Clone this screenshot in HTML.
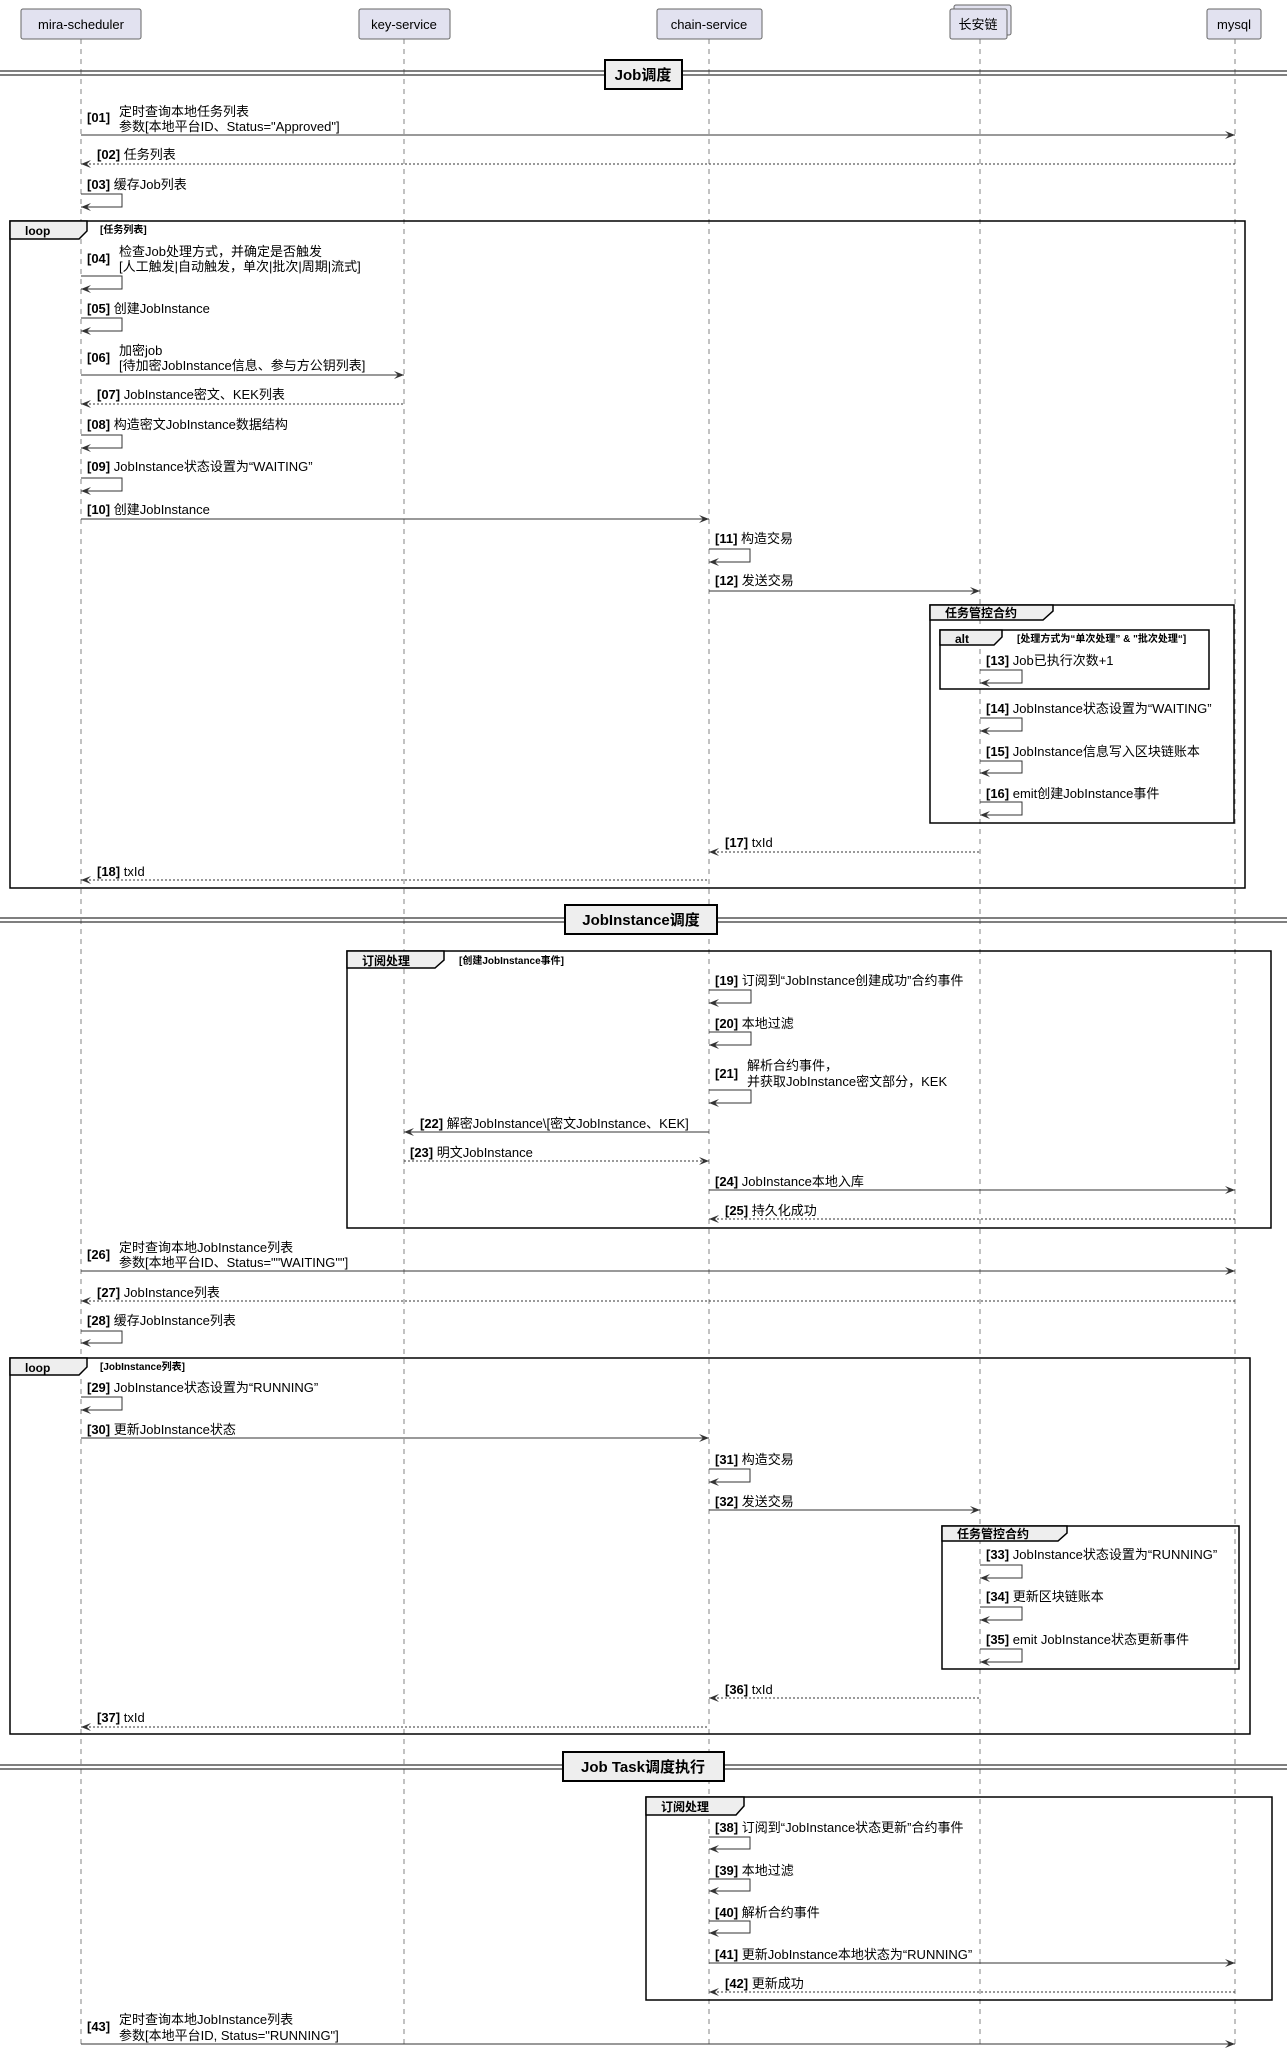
<!DOCTYPE html>
<html><head><meta charset="utf-8"><style>
html,body{margin:0;padding:0;background:#fff;}
svg{display:block;font-family:"Liberation Sans","Noto Sans CJK SC",sans-serif;}
.t{font-size:13px;fill:#000;}
.b{font-weight:bold;}
.ln{stroke:#333;stroke-width:1;fill:none;}
.dl{stroke:#333;stroke-width:1;fill:none;stroke-dasharray:2,2;}
.ll{stroke:#666;stroke-width:0.8;stroke-dasharray:5,5;}
.ah{fill:#333;}
.fr{fill:none;stroke:#000;stroke-width:1.5;}
.tab{fill:#eee;stroke:#000;stroke-width:1.5;}
.pb{fill:#e2e2f0;stroke:#666;stroke-width:1;}
</style></head><body>
<svg width="1287" height="2048" viewBox="0 0 1287 2048" xmlns="http://www.w3.org/2000/svg">
<line class="ll" x1="81" y1="39" x2="81" y2="2048"/>
<line class="ll" x1="404" y1="39" x2="404" y2="2048"/>
<line class="ll" x1="709" y1="39" x2="709" y2="2048"/>
<line class="ll" x1="980" y1="39" x2="980" y2="2048"/>
<line class="ll" x1="1235" y1="39" x2="1235" y2="2048"/>
<rect class="pb" x="21" y="9" width="120" height="30" rx="2"/>
<text class="t" x="81" y="29" text-anchor="middle" style="font-size:13px">mira-scheduler</text>
<rect class="pb" x="359" y="9" width="91" height="30" rx="2"/>
<text class="t" x="404" y="29" text-anchor="middle" style="font-size:13px">key-service</text>
<rect class="pb" x="657" y="9" width="105" height="30" rx="2"/>
<text class="t" x="709" y="29" text-anchor="middle" style="font-size:13px">chain-service</text>
<rect class="pb" x="954" y="5" width="57" height="30" rx="2"/>
<rect class="pb" x="950" y="9" width="57" height="30" rx="2"/>
<text class="t" x="978" y="29" text-anchor="middle" style="font-size:13px">长安链</text>
<rect class="pb" x="1207" y="9" width="54" height="30" rx="2"/>
<text class="t" x="1234" y="29" text-anchor="middle" style="font-size:13px">mysql</text>

<g>
<line x1="0" y1="71" x2="1287" y2="71" stroke="#333" stroke-width="1.2"/><line x1="0" y1="75" x2="1287" y2="75" stroke="#333" stroke-width="1.2"/>
<rect x="605" y="60" width="77" height="29" fill="#eee" stroke="#000" stroke-width="2"/>
<text class="t b" x="643" y="80" text-anchor="middle" style="font-size:15px">Job调度</text>
<line x1="0" y1="918" x2="1287" y2="918" stroke="#333" stroke-width="1.2"/><line x1="0" y1="922" x2="1287" y2="922" stroke="#333" stroke-width="1.2"/>
<rect x="565" y="905" width="152" height="29" fill="#eee" stroke="#000" stroke-width="2"/>
<text class="t b" x="641" y="925" text-anchor="middle" style="font-size:15px">JobInstance调度</text>
<line x1="0" y1="1765" x2="1287" y2="1765" stroke="#333" stroke-width="1.2"/><line x1="0" y1="1769" x2="1287" y2="1769" stroke="#333" stroke-width="1.2"/>
<rect x="563" y="1752" width="161" height="29" fill="#eee" stroke="#000" stroke-width="2"/>
<text class="t b" x="643" y="1772" text-anchor="middle" style="font-size:15px">Job Task调度执行</text>
</g>

<rect class="fr" x="10" y="221" width="1235" height="667"/>
<path class="tab" d="M10 221 H87 V231 L79 239 H10 Z"/>
<text class="t b" x="25" y="235" style="font-size:12px">loop</text>
<text class="t b" x="100" y="233" style="font-size:10px">[任务列表]</text>

<rect class="fr" x="930" y="605" width="304" height="218"/>
<path class="tab" d="M930 605 H1053 V611 L1043 620 H930 Z"/>
<text class="t b" x="945" y="617" style="font-size:12px">任务管控合约</text>
<rect class="fr" x="940" y="630" width="269" height="59"/>
<path class="tab" d="M940 630 H1002 V637 L994 645 H940 Z"/>
<text class="t b" x="955" y="643" style="font-size:12px">alt</text>
<text class="t b" x="1017" y="642" style="font-size:10px">[处理方式为“单次处理” &amp; "批次处理“]</text>

<rect class="fr" x="347" y="951" width="924" height="277"/>
<path class="tab" d="M347 951 H444 V960 L435 968 H347 Z"/>
<text class="t b" x="362" y="965" style="font-size:12px">订阅处理</text>
<text class="t b" x="459" y="964" style="font-size:10px">[创建JobInstance事件]</text>

<rect class="fr" x="10" y="1358" width="1240" height="376"/>
<path class="tab" d="M10 1358 H87 V1367 L79 1375 H10 Z"/>
<text class="t b" x="25" y="1372" style="font-size:12px">loop</text>
<text class="t b" x="100" y="1370" style="font-size:10px">[JobInstance列表]</text>

<rect class="fr" x="942" y="1526" width="297" height="143"/>
<path class="tab" d="M942 1526 H1067 V1533 L1058 1541 H942 Z"/>
<text class="t b" x="957" y="1538" style="font-size:12px">任务管控合约</text>

<rect class="fr" x="646" y="1797" width="626" height="203"/>
<path class="tab" d="M646 1797 H744 V1806 L736 1815 H646 Z"/>
<text class="t b" x="661" y="1811" style="font-size:12px">订阅处理</text>

<text class="t" x="87" y="122"><tspan class="b">[01]</tspan></text>
<text class="t" x="119" y="116">定时查询本地任务列表</text>
<text class="t" x="119" y="131">参数[本地平台ID、Status="Approved"]</text>
<line class="ln" x1="81" y1="135" x2="1235" y2="135"/><polygon class="ah" points="1235,135 1225,131 1229,135 1225,139"/>
<text class="t" x="97" y="159"><tspan class="b">[02]</tspan> 任务列表</text>
<line class="dl" x1="81" y1="164" x2="1235" y2="164"/><polygon class="ah" points="81,164 91,160 87,164 91,168"/>
<text class="t" x="87" y="189"><tspan class="b">[03]</tspan> 缓存Job列表</text>
<path class="ln" d="M81 194 H122 V207 H81"/><polygon class="ah" points="81,207 91,203 87,207 91,211"/>
<text class="t" x="87" y="263"><tspan class="b">[04]</tspan></text>
<text class="t" x="119" y="256">检查Job处理方式，并确定是否触发</text>
<text class="t" x="119" y="271">[人工触发|自动触发，单次|批次|周期|流式]</text>
<path class="ln" d="M81 276 H122 V289 H81"/><polygon class="ah" points="81,289 91,285 87,289 91,293"/>
<text class="t" x="87" y="313"><tspan class="b">[05]</tspan> 创建JobInstance</text>
<path class="ln" d="M81 318 H122 V331 H81"/><polygon class="ah" points="81,331 91,327 87,331 91,335"/>
<text class="t" x="87" y="362"><tspan class="b">[06]</tspan></text>
<text class="t" x="119" y="355">加密job</text>
<text class="t" x="119" y="370">[待加密JobInstance信息、参与方公钥列表]</text>
<line class="ln" x1="81" y1="375" x2="404" y2="375"/><polygon class="ah" points="404,375 394,371 398,375 394,379"/>
<text class="t" x="97" y="399"><tspan class="b">[07]</tspan> JobInstance密文、KEK列表</text>
<line class="dl" x1="81" y1="404" x2="404" y2="404"/><polygon class="ah" points="81,404 91,400 87,404 91,408"/>
<text class="t" x="87" y="429"><tspan class="b">[08]</tspan> 构造密文JobInstance数据结构</text>
<path class="ln" d="M81 435 H122 V448 H81"/><polygon class="ah" points="81,448 91,444 87,448 91,452"/>
<text class="t" x="87" y="471"><tspan class="b">[09]</tspan> JobInstance状态设置为“WAITING”</text>
<path class="ln" d="M81 478 H122 V491 H81"/><polygon class="ah" points="81,491 91,487 87,491 91,495"/>
<text class="t" x="87" y="514"><tspan class="b">[10]</tspan> 创建JobInstance</text>
<line class="ln" x1="81" y1="519" x2="709" y2="519"/><polygon class="ah" points="709,519 699,515 703,519 699,523"/>
<text class="t" x="715" y="543"><tspan class="b">[11]</tspan> 构造交易</text>
<path class="ln" d="M709 549 H750 V562 H709"/><polygon class="ah" points="709,562 719,558 715,562 719,566"/>
<text class="t" x="715" y="585"><tspan class="b">[12]</tspan> 发送交易</text>
<line class="ln" x1="709" y1="591" x2="980" y2="591"/><polygon class="ah" points="980,591 970,587 974,591 970,595"/>
<text class="t" x="986" y="665"><tspan class="b">[13]</tspan> Job已执行次数+1</text>
<path class="ln" d="M980 670 H1022 V683 H980"/><polygon class="ah" points="980,683 990,679 986,683 990,687"/>
<text class="t" x="986" y="713"><tspan class="b">[14]</tspan> JobInstance状态设置为“WAITING”</text>
<path class="ln" d="M980 718 H1022 V731 H980"/><polygon class="ah" points="980,731 990,727 986,731 990,735"/>
<text class="t" x="986" y="756"><tspan class="b">[15]</tspan> JobInstance信息写入区块链账本</text>
<path class="ln" d="M980 761 H1022 V773 H980"/><polygon class="ah" points="980,773 990,769 986,773 990,777"/>
<text class="t" x="986" y="798"><tspan class="b">[16]</tspan> emit创建JobInstance事件</text>
<path class="ln" d="M980 802 H1022 V815 H980"/><polygon class="ah" points="980,815 990,811 986,815 990,819"/>
<text class="t" x="725" y="847"><tspan class="b">[17]</tspan> txId</text>
<line class="dl" x1="709" y1="852" x2="980" y2="852"/><polygon class="ah" points="709,852 719,848 715,852 719,856"/>
<text class="t" x="97" y="876"><tspan class="b">[18]</tspan> txId</text>
<line class="dl" x1="81" y1="880" x2="709" y2="880"/><polygon class="ah" points="81,880 91,876 87,880 91,884"/>

<text class="t" x="715" y="985"><tspan class="b">[19]</tspan> 订阅到“JobInstance创建成功”合约事件</text>
<path class="ln" d="M709 990 H751 V1003 H709"/><polygon class="ah" points="709,1003 719,999 715,1003 719,1007"/>
<text class="t" x="715" y="1028"><tspan class="b">[20]</tspan> 本地过滤</text>
<path class="ln" d="M709 1032 H751 V1045 H709"/><polygon class="ah" points="709,1045 719,1041 715,1045 719,1049"/>
<text class="t" x="715" y="1078"><tspan class="b">[21]</tspan></text>
<text class="t" x="747" y="1070">解析合约事件，</text>
<text class="t" x="747" y="1086">并获取JobInstance密文部分，KEK</text>
<path class="ln" d="M709 1090 H751 V1103 H709"/><polygon class="ah" points="709,1103 719,1099 715,1103 719,1107"/>
<text class="t" x="420" y="1128"><tspan class="b">[22]</tspan> 解密JobInstance\[密文JobInstance、KEK]</text>
<line class="ln" x1="404" y1="1132" x2="709" y2="1132"/><polygon class="ah" points="404,1132 414,1128 410,1132 414,1136"/>
<text class="t" x="410" y="1157"><tspan class="b">[23]</tspan> 明文JobInstance</text>
<line class="dl" x1="404" y1="1161" x2="709" y2="1161"/><polygon class="ah" points="709,1161 699,1157 703,1161 699,1165"/>
<text class="t" x="715" y="1186"><tspan class="b">[24]</tspan> JobInstance本地入库</text>
<line class="ln" x1="709" y1="1190" x2="1235" y2="1190"/><polygon class="ah" points="1235,1190 1225,1186 1229,1190 1225,1194"/>
<text class="t" x="725" y="1215"><tspan class="b">[25]</tspan> 持久化成功</text>
<line class="dl" x1="709" y1="1219" x2="1235" y2="1219"/><polygon class="ah" points="709,1219 719,1215 715,1219 719,1223"/>

<text class="t" x="87" y="1259"><tspan class="b">[26]</tspan></text>
<text class="t" x="119" y="1252">定时查询本地JobInstance列表</text>
<text class="t" x="119" y="1267">参数[本地平台ID、Status=""WAITING""]</text>
<line class="ln" x1="81" y1="1271" x2="1235" y2="1271"/><polygon class="ah" points="1235,1271 1225,1267 1229,1271 1225,1275"/>
<text class="t" x="97" y="1297"><tspan class="b">[27]</tspan> JobInstance列表</text>
<line class="dl" x1="81" y1="1301" x2="1235" y2="1301"/><polygon class="ah" points="81,1301 91,1297 87,1301 91,1305"/>
<text class="t" x="87" y="1325"><tspan class="b">[28]</tspan> 缓存JobInstance列表</text>
<path class="ln" d="M81 1331 H122 V1343 H81"/><polygon class="ah" points="81,1343 91,1339 87,1343 91,1347"/>
<text class="t" x="87" y="1392"><tspan class="b">[29]</tspan> JobInstance状态设置为“RUNNING”</text>
<path class="ln" d="M81 1397 H122 V1410 H81"/><polygon class="ah" points="81,1410 91,1406 87,1410 91,1414"/>
<text class="t" x="87" y="1434"><tspan class="b">[30]</tspan> 更新JobInstance状态</text>
<line class="ln" x1="81" y1="1438" x2="709" y2="1438"/><polygon class="ah" points="709,1438 699,1434 703,1438 699,1442"/>
<text class="t" x="715" y="1464"><tspan class="b">[31]</tspan> 构造交易</text>
<path class="ln" d="M709 1469 H750 V1482 H709"/><polygon class="ah" points="709,1482 719,1478 715,1482 719,1486"/>
<text class="t" x="715" y="1506"><tspan class="b">[32]</tspan> 发送交易</text>
<line class="ln" x1="709" y1="1510" x2="980" y2="1510"/><polygon class="ah" points="980,1510 970,1506 974,1510 970,1514"/>
<text class="t" x="986" y="1559"><tspan class="b">[33]</tspan> JobInstance状态设置为“RUNNING”</text>
<path class="ln" d="M980 1565 H1022 V1578 H980"/><polygon class="ah" points="980,1578 990,1574 986,1578 990,1582"/>
<text class="t" x="986" y="1601"><tspan class="b">[34]</tspan> 更新区块链账本</text>
<path class="ln" d="M980 1607 H1022 V1620 H980"/><polygon class="ah" points="980,1620 990,1616 986,1620 990,1624"/>
<text class="t" x="986" y="1644"><tspan class="b">[35]</tspan> emit JobInstance状态更新事件</text>
<path class="ln" d="M980 1649 H1022 V1662 H980"/><polygon class="ah" points="980,1662 990,1658 986,1662 990,1666"/>
<text class="t" x="725" y="1694"><tspan class="b">[36]</tspan> txId</text>
<line class="dl" x1="709" y1="1698" x2="980" y2="1698"/><polygon class="ah" points="709,1698 719,1694 715,1698 719,1702"/>
<text class="t" x="97" y="1722"><tspan class="b">[37]</tspan> txId</text>
<line class="dl" x1="81" y1="1727" x2="709" y2="1727"/><polygon class="ah" points="81,1727 91,1723 87,1727 91,1731"/>

<text class="t" x="715" y="1832"><tspan class="b">[38]</tspan> 订阅到“JobInstance状态更新”合约事件</text>
<path class="ln" d="M709 1837 H750 V1849 H709"/><polygon class="ah" points="709,1849 719,1845 715,1849 719,1853"/>
<text class="t" x="715" y="1875"><tspan class="b">[39]</tspan> 本地过滤</text>
<path class="ln" d="M709 1879 H750 V1891 H709"/><polygon class="ah" points="709,1891 719,1887 715,1891 719,1895"/>
<text class="t" x="715" y="1917"><tspan class="b">[40]</tspan> 解析合约事件</text>
<path class="ln" d="M709 1921 H750 V1933 H709"/><polygon class="ah" points="709,1933 719,1929 715,1933 719,1937"/>
<text class="t" x="715" y="1959"><tspan class="b">[41]</tspan> 更新JobInstance本地状态为“RUNNING”</text>
<line class="ln" x1="709" y1="1963" x2="1235" y2="1963"/><polygon class="ah" points="1235,1963 1225,1959 1229,1963 1225,1967"/>
<text class="t" x="725" y="1988"><tspan class="b">[42]</tspan> 更新成功</text>
<line class="dl" x1="709" y1="1992" x2="1235" y2="1992"/><polygon class="ah" points="709,1992 719,1988 715,1992 719,1996"/>
<text class="t" x="87" y="2031"><tspan class="b">[43]</tspan></text>
<text class="t" x="119" y="2024">定时查询本地JobInstance列表</text>
<text class="t" x="119" y="2040">参数[本地平台ID, Status="RUNNING"]</text>
<line class="ln" x1="81" y1="2044" x2="1235" y2="2044"/><polygon class="ah" points="1235,2044 1225,2040 1229,2044 1225,2048"/>
</svg>
</body></html>
